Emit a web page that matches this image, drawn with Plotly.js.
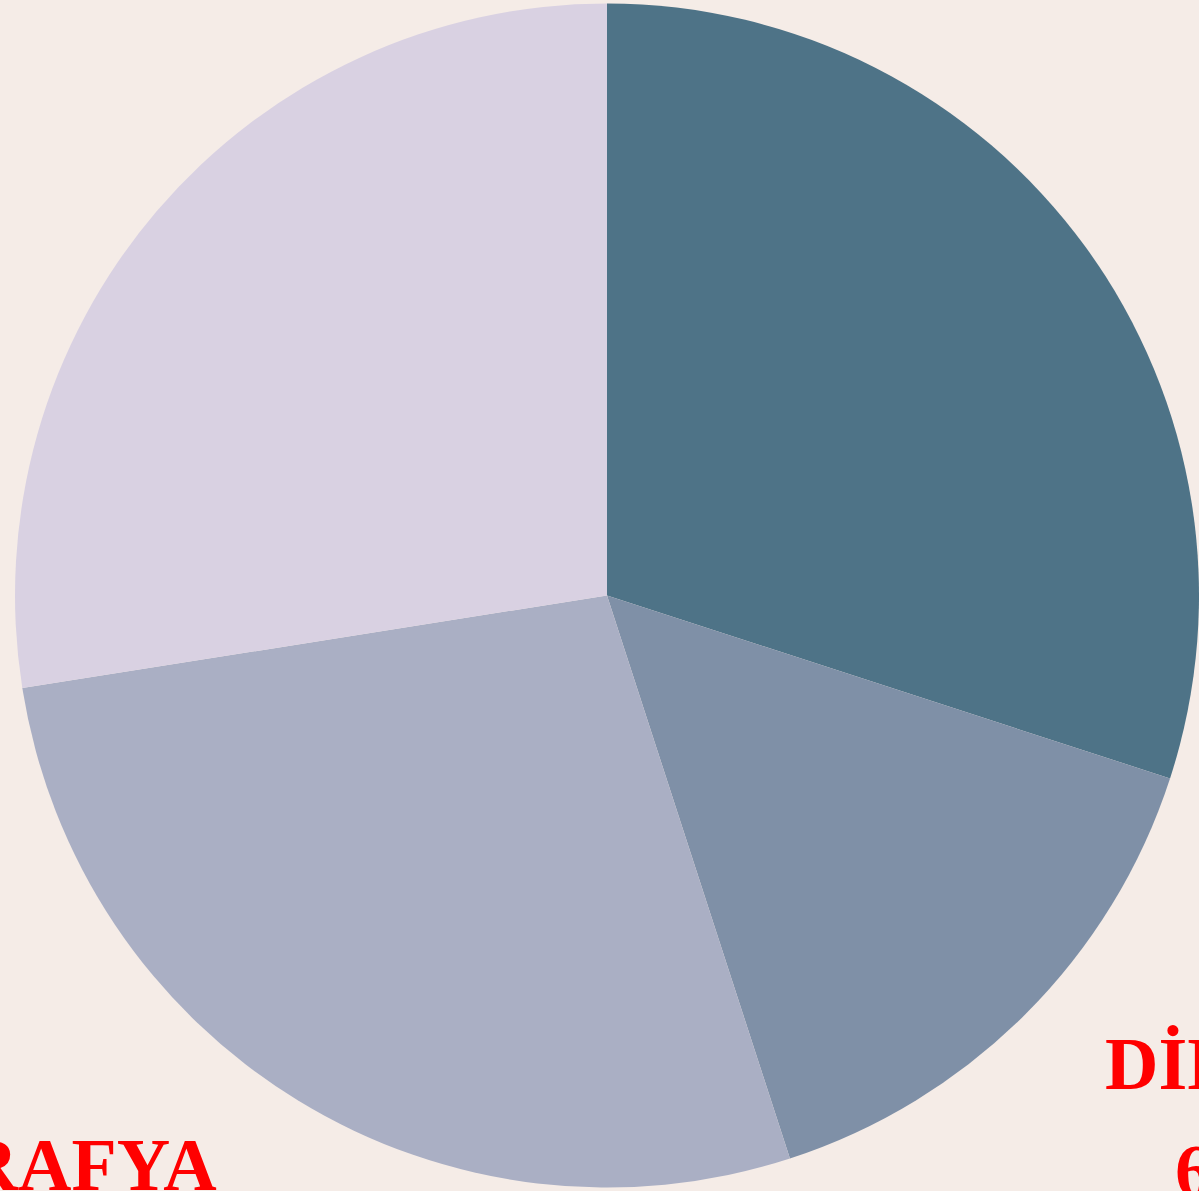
<!DOCTYPE html>
<html>
<head>
<meta charset="utf-8">
<script src="https://cdn.plot.ly/plotly-3.0.1.min.js"></script>
<style>html,body{margin:0;padding:0;background:#F5ECE7;}</style>
</head>
<body>
<div id="chart" style="width:1199px;height:1191px;"></div>
<script>
const subjects = ["TARİH", "DİN KÜLTÜRÜ", "COĞRAFYA", "FELSEFE"];
const counts = [12, 6, 11, 11];
const sliceColors = ["#4E7387", "#7F90A7", "#AAAFC4", "#D9D1E2"];

const W = 1199, H = 1191;
const labelFont = {family: "Liberation Serif", size: 74, color: "#FF0000", weight: "bold"};
function px(x) { return x / W; }
function py(y) { return 1 - y / H; }
function note(text, x, y, anchor) {
  return {xref: "paper", yref: "paper", x: px(x), y: py(y), xanchor: anchor, yanchor: "top",
          text: text, showarrow: false, font: labelFont, borderpad: 0};
}

Plotly.newPlot("chart", [{
  type: "pie",
  labels: subjects,
  values: counts,
  sort: false,
  direction: "clockwise",
  marker: {colors: sliceColors, line: {width: 0}},
  textinfo: "none",
  hoverinfo: "none",
  domain: {x: [15 / W, 1], y: [3 / H, 1 - 3 / H]}
}], {
  width: W,
  height: H,
  showlegend: false,
  paper_bgcolor: "#F5ECE7",
  plot_bgcolor: "#F5ECE7",
  margin: {l: 0, r: 0, t: 0, b: 0, pad: 0},
  annotations: [
    note(subjects[1], 1104, 1022, "left"),
    note(String(counts[1]), 1174, 1129, "left"),
    note(subjects[2], 218, 1123, "right")
  ]
}, {displayModeBar: false, staticPlot: true});
</script>
</body>
</html>
